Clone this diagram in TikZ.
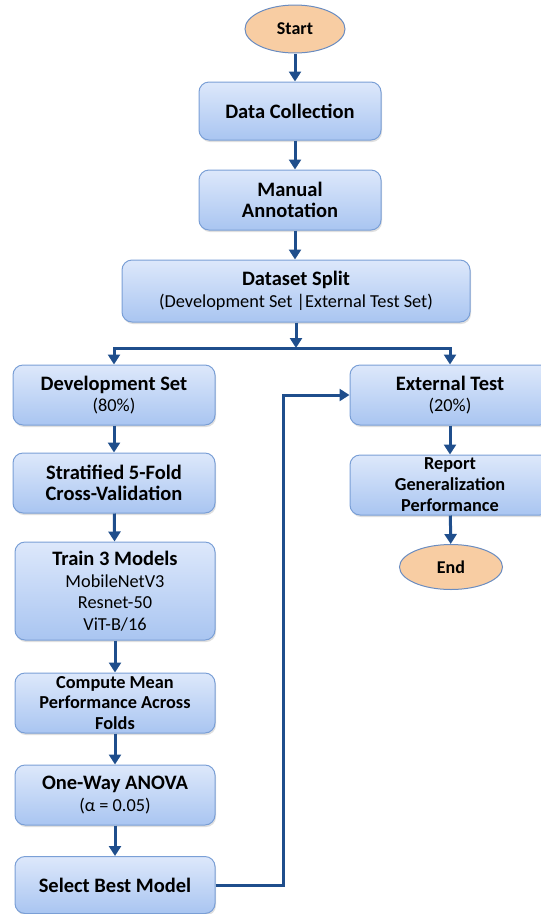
\documentclass[tikz,border=0pt]{standalone}
\usepackage{fontspec}
\setmainfont{Carlito}
\usepackage{tikz}
\usetikzlibrary{shapes.geometric,arrows.meta,shadows}

\definecolor{arrowblue}{HTML}{1F4E8C}
\definecolor{boxedge}{HTML}{7A9FD6}
\definecolor{boxtop}{HTML}{DDE8FB}
\definecolor{boxbot}{HTML}{A9C5F1}
\definecolor{peach}{HTML}{F8CDA3}
\definecolor{ovaledge}{HTML}{6A8CC0}

\newcommand{\ttl}[1]{{\fontsize{20.5}{22}\selectfont\bfseries #1}}

\begin{document}
\begin{tikzpicture}[x=1pt,y=-1pt,
  stepbox/.style={draw=boxedge,line width=1pt,rounded corners=10pt,
    top color=boxtop,bottom color=boxbot,align=center,inner sep=2pt,
    font=\fontsize{18.3}{21.5}\selectfont,
    drop shadow={shadow xshift=1pt,shadow yshift=-2pt,opacity=0.25}},
  terminal/.style={ellipse,draw=ovaledge,line width=1pt,fill=peach,
    inner sep=0pt,font=\fontsize{18}{21}\selectfont\bfseries},
  arr/.style={draw=arrowblue,line width=3pt,
    -{Triangle[length=10pt,width=12pt]}}]

\useasboundingbox (0,0) rectangle (541,914);
\clip (0,0) rectangle (541,914);

% Main trunk
\node[terminal,minimum width=100pt,minimum height=48pt] (start) at (295,29) {Start};
\node[stepbox,minimum width=182pt,minimum height=58pt] (collect) at (290,111) {\ttl{Data Collection}};
\node[stepbox,minimum width=182pt,minimum height=60pt] (annot) at (290,200) {\ttl{Manual}\\\ttl{Annotation}};
\node[stepbox,minimum width=348pt,minimum height=62pt] (split) at (296,291)
  {\ttl{Dataset Split}\\(Development Set |External Test Set)};

% Left branch: development set
\node[stepbox,minimum width=202pt,minimum height=60pt] (devset) at (114,395) {\ttl{Development Set}\\(80\%)};
\node[stepbox,minimum width=202pt,minimum height=60pt] (kfold) at (114,483) {\ttl{Stratified 5-Fold}\\\ttl{Cross-Validation}};
\node[stepbox,minimum width=200pt,minimum height=98pt] (train) at (115,591)
  {\ttl{Train 3 Models}\\MobileNetV3\\Resnet-50\\ViT-B/16};
\node[stepbox,minimum width=200pt,minimum height=60pt,font=\fontsize{18.3}{20.5}\selectfont\bfseries] (mean) at (115,703)
  {Compute Mean\\Performance Across\\Folds};
\node[stepbox,minimum width=200pt,minimum height=60pt] (anova) at (115,795) {\ttl{One-Way ANOVA}\\(α = 0.05)};
\node[stepbox,minimum width=200pt,minimum height=57pt] (best) at (115,885) {\ttl{Select Best Model}};

% Right branch: external test
\node[stepbox,minimum width=200pt,minimum height=60pt] (ext) at (450,395) {\ttl{External Test}\\(20\%)};
\node[stepbox,minimum width=200pt,minimum height=60pt,font=\fontsize{18.3}{21}\selectfont\bfseries] (report) at (450,485)
  {Report\\Generalization\\Performance};
\node[terminal,minimum width=103pt,minimum height=45pt] (end) at (451,567) {End};

\coordinate (fork) at (296,348);
\coordinate (turn) at (283,885);

% Connectors
\draw[arr] (start.south) -- (start.south |- collect.north);
\draw[arr] (start.south |- collect.south) -- (start.south |- annot.north);
\draw[arr] (start.south |- annot.south) -- (start.south |- split.north);
\draw[arr] (split.south) -- (fork);
\draw[arr] (fork) -| (devset.north);
\draw[arr] (fork) -| (ext.north);
\draw[arr] (devset) -- (kfold);
\draw[arr] (kfold) -- (train);
\draw[arr] (train) -- (mean);
\draw[arr] (mean) -- (anova);
\draw[arr] (anova) -- (best);
\draw[arr] (best.east) -- (turn) |- (ext.west);
\draw[arr] (ext) -- (report);
\draw[arr] (report) -- (end);
\end{tikzpicture}
\end{document}
